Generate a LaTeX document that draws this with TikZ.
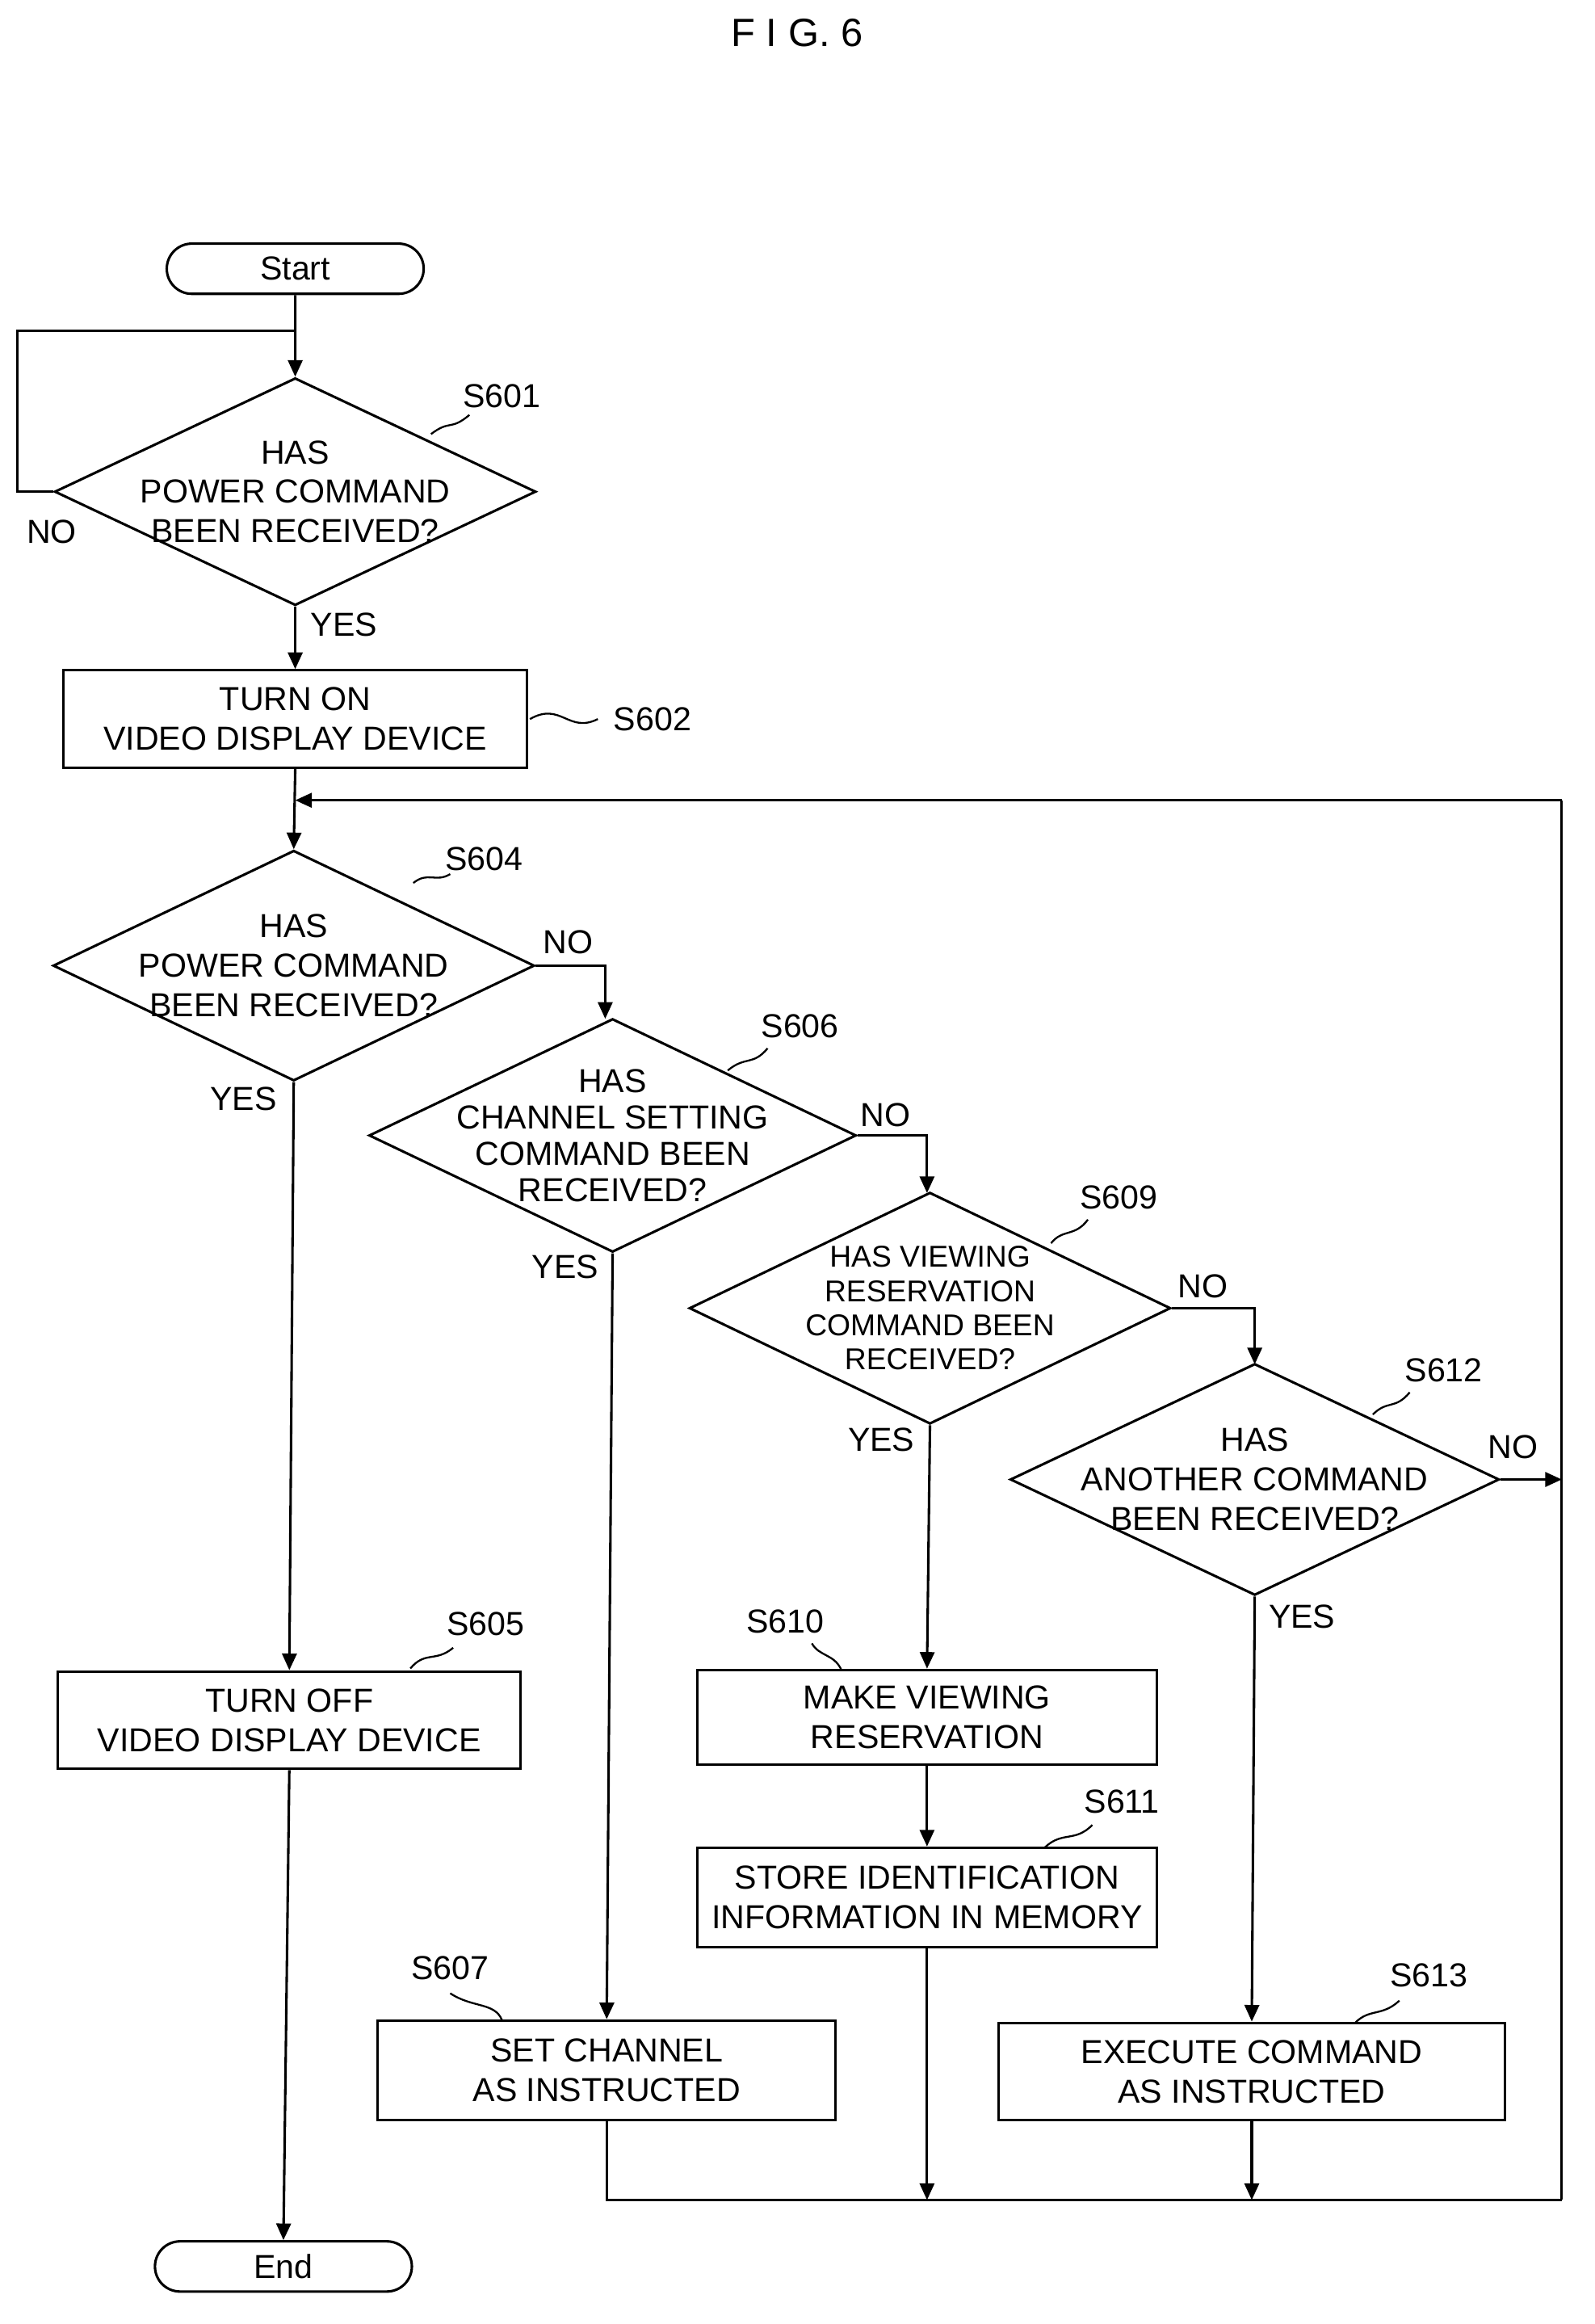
\documentclass[tikz,border=0pt]{standalone}
\usepackage{fontspec}
\setmainfont{Liberation Sans}
\usetikzlibrary{shapes.geometric,shapes.misc,arrows.meta}
\begin{document}
\begin{tikzpicture}[x=0.025cm,y=-0.025cm,
  every node/.style={font=\fontsize{16}{19}\selectfont},
  term/.style={draw,line width=1.2pt,rounded rectangle,minimum width=4.35cm,minimum height=0.85cm,inner sep=0},
  dia/.style={draw,line width=1.2pt,diamond,inner sep=0},
  box/.style={draw,line width=1.2pt,inner sep=0,minimum height=1.65cm},
  txt/.style={align=center,inner sep=0},
  lab/.style={inner sep=1pt},
  ln/.style={line width=1.2pt},
  ar/.style={line width=1.2pt,-{Triangle[length=8pt,width=7pt]}},
  sq/.style={line width=0.9pt}]
\useasboundingbox (0,0) rectangle (1080,1574);
\node (title) at (540,22) {\fontsize{19}{22}\selectfont F I G. 6};
\node[term] (start) at (200,182) {Start};
\node[term] (end) at (192,1535) {End};
% S601
\node[dia,minimum width=8.15cm,minimum height=3.85cm] (s601) at (200,333) {};
\node[txt] at (s601) {HAS\\POWER COMMAND\\BEEN RECEIVED?};
\node[lab] (l601) at (340,268) {S601};
\coordinate (j1) at (200,224);
\coordinate (c1a) at (12,333);
\coordinate (c1b) at (12,224);
\draw[ar] (start) -- (s601.north);
\draw[ln] (s601.west) -- (c1a) -- (c1b) -- (j1);
\node at (35,360) {NO};
% S602
\node[box,minimum width=7.85cm] (s602) at (200,487) {};
\node[txt] at (s602) {TURN ON\\VIDEO DISPLAY DEVICE};
\node[lab] (l602) at (442,487) {S602};
\draw[ar] (s601.south) -- (s602.north);
\node at (233,423) {YES};
% S604
\node[dia,minimum width=8.15cm,minimum height=3.9cm] (s604) at (199,654) {};
\node[txt] at (s604) {HAS\\POWER COMMAND\\BEEN RECEIVED?};
\node[lab] (l604) at (328,582) {S604};
\coordinate (j2) at (200,542);
\draw[ar] (s602.south) -- (s604.north);
% S606
\node[dia,minimum width=8.25cm,minimum height=3.95cm] (s606) at (415,769) {};
\node[txt,font=\fontsize{16}{17.5}\selectfont] at (s606) {HAS\\CHANNEL SETTING\\COMMAND BEEN\\RECEIVED?};
\node[lab] (l606) at (542,695) {S606};
\coordinate (c4) at (410,654);
\draw[ar] (s604.east) -- (c4) -- (410,690);
\node at (385,638) {NO};
% S609
\node[dia,minimum width=8.15cm,minimum height=3.92cm] (s609) at (630,886) {};
\node[txt,font=\fontsize{14.5}{16.5}\selectfont] at (s609) {HAS VIEWING\\RESERVATION\\COMMAND BEEN\\RECEIVED?};
\node[lab] (l609) at (758,811) {S609};
\coordinate (c6) at (628,769);
\draw[ar] (s606.east) -- (c6) -- (628,808);
\node at (600,755) {NO};
% S612
\node[dia,minimum width=8.28cm,minimum height=3.92cm] (s612) at (850,1002) {};
\node[txt] at (s612) {HAS\\ANOTHER COMMAND\\BEEN RECEIVED?};
\node[lab] (l612) at (978,928) {S612};
\coordinate (c9) at (850,886);
\draw[ar] (s609.east) -- (c9) -- (850,924);
\node at (815,871) {NO};
% right return line
\coordinate (r1) at (1058,1002);
\coordinate (r2) at (1058,1490);
\coordinate (r3) at (1058,542);
\draw[ar] (s612.east) -- (r1);
\node at (1025,980) {NO};
\draw[ln] (r2) -- (r3);
\draw[ar] (r3) -- (j2);
% S605
\node[box,minimum width=7.83cm] (s605) at (196,1165) {};
\node[txt] at (s605) {TURN OFF\\VIDEO DISPLAY DEVICE};
\node[lab] (l605) at (329,1100) {S605};
\draw[ar] (s604.south) -- (s605.north);
\node at (165,744) {YES};
\draw[ar] (s605.south) -- (end.north);
% S610
\node[box,minimum width=7.78cm,minimum height=1.6cm] (s610) at (628,1163) {};
\node[txt] at (s610) {MAKE VIEWING\\RESERVATION};
\node[lab] (l610) at (532,1098) {S610};
\draw[ar] (s609.south) -- (s610.north);
\node at (597,975) {YES};
% S611
\node[box,minimum width=7.78cm,minimum height=1.68cm] (s611) at (628,1285) {};
\node[txt] at (s611) {STORE IDENTIFICATION\\INFORMATION IN MEMORY};
\node[lab] (l611) at (760,1220) {S611};
\draw[ar] (s610.south) -- (s611.north);
% S607
\node[box,minimum width=7.75cm,minimum height=1.68cm] (s607) at (411,1402) {};
\node[txt] at (s607) {SET CHANNEL\\AS INSTRUCTED};
\node[lab] (l607) at (305,1333) {S607};
\draw[ar] (s606.south) -- (s607.north);
\node at (383,858) {YES};
% S613
\node[box,minimum width=8.58cm,minimum height=1.65cm] (s613) at (848,1403) {};
\node[txt] at (s613) {EXECUTE COMMAND\\AS INSTRUCTED};
\node[lab] (l613) at (968,1338) {S613};
\draw[ar] (s612.south) -- (s613.north);
\node at (882,1095) {YES};
% bottom merge
\coordinate (b1) at (411,1490);
\coordinate (b2) at (628,1490);
\coordinate (b3) at (848,1490);
\draw[ln] (s607.south) -- (b1) -- (r2);
\draw[ar] (s611.south) -- (b2);
\draw[ar] (s613.south) -- (b3);
% squiggles
\draw[sq] (292,294) .. controls (305,284) and (305,292) .. (318,281);
\draw[sq] (359,487) .. controls (380,475) and (385,497) .. (405,487);
\draw[sq] (280,598) .. controls (290,590) and (295,598) .. (305,592);
\draw[sq] (493,725) .. controls (505,715) and (510,722) .. (520,710);
\draw[sq] (712,842) .. controls (720,832) and (728,838) .. (737,826);
\draw[sq] (930,958) .. controls (940,948) and (945,955) .. (955,943);
\draw[sq] (278,1130) .. controls (288,1118) and (295,1126) .. (307,1116);
\draw[sq] (570,1131) .. controls (565,1120) and (555,1122) .. (550,1113);
\draw[sq] (708,1251) .. controls (720,1240) and (728,1248) .. (740,1236);
\draw[sq] (340,1368) .. controls (335,1356) and (320,1360) .. (305,1350);
\draw[sq] (918,1370) .. controls (928,1360) and (936,1366) .. (948,1355);
\end{tikzpicture}
\end{document}
